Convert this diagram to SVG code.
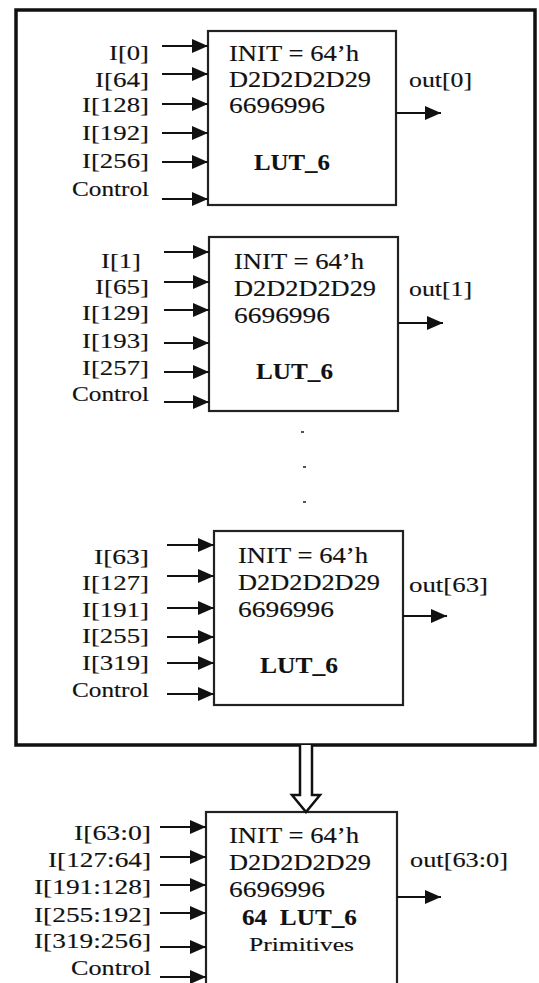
<svg xmlns="http://www.w3.org/2000/svg" width="539" height="983" viewBox="0 0 539 983">
<defs>
<style>
.t{font-family:"Liberation Serif","Times New Roman",serif;fill:#111;stroke:#111;stroke-width:0.15;}
.lbl{font-size:22px;text-anchor:end;}
.in{font-size:24px;}
.b{font-weight:bold;stroke-width:0.1;}
.box{fill:#fff;stroke:#222;stroke-width:2.2;}
.w{stroke:#111;stroke-width:2;fill:none;}
</style>
<marker id="ah" markerWidth="16" markerHeight="14" refX="16" refY="7" orient="auto" markerUnits="userSpaceOnUse">
<path d="M0,0 L16,7 L0,14 Z" fill="#111"/>
</marker>
</defs>
<rect width="539" height="983" fill="#fff"/>

<g id="frame">
<rect x="16" y="10" width="519" height="735" fill="none" stroke="#111" stroke-width="3.5"/>
</g>

<g id="lut0">
<rect class="box" x="208" y="31" width="188" height="174"/>
<text class="t in" x="229" y="61" textLength="130" lengthAdjust="spacingAndGlyphs">INIT = 64’h</text>
<text class="t in" x="229" y="87" textLength="142" lengthAdjust="spacingAndGlyphs">D2D2D2D29</text>
<text class="t in" x="229" y="113" textLength="96" lengthAdjust="spacingAndGlyphs">6696996</text>
<text class="t in b" x="254" y="170" textLength="76" lengthAdjust="spacingAndGlyphs">LUT_6</text>
<text class="t lbl" x="149" y="60" textLength="40" lengthAdjust="spacingAndGlyphs">I[0]</text>
<text class="t lbl" x="149" y="87" textLength="54" lengthAdjust="spacingAndGlyphs">I[64]</text>
<text class="t lbl" x="149" y="112" textLength="67" lengthAdjust="spacingAndGlyphs">I[128]</text>
<text class="t lbl" x="149" y="140" textLength="67" lengthAdjust="spacingAndGlyphs">I[192]</text>
<text class="t lbl" x="149" y="168" textLength="67" lengthAdjust="spacingAndGlyphs">I[256]</text>
<text class="t lbl" x="149" y="196" textLength="77" lengthAdjust="spacingAndGlyphs">Control</text>
<text class="t" x="409" y="87" font-size="22" textLength="63" lengthAdjust="spacingAndGlyphs">out[0]</text>
</g>

<g id="lut1">
<rect class="box" x="209" y="237" width="189" height="174"/>
<text class="t in" x="234" y="269" textLength="130" lengthAdjust="spacingAndGlyphs">INIT = 64’h</text>
<text class="t in" x="234" y="296" textLength="142" lengthAdjust="spacingAndGlyphs">D2D2D2D29</text>
<text class="t in" x="234" y="323" textLength="96" lengthAdjust="spacingAndGlyphs">6696996</text>
<text class="t in b" x="256" y="379" textLength="77" lengthAdjust="spacingAndGlyphs">LUT_6</text>
<text class="t lbl" x="141" y="268" textLength="40" lengthAdjust="spacingAndGlyphs">I[1]</text>
<text class="t lbl" x="149" y="294" textLength="54" lengthAdjust="spacingAndGlyphs">I[65]</text>
<text class="t lbl" x="149" y="320" textLength="67" lengthAdjust="spacingAndGlyphs">I[129]</text>
<text class="t lbl" x="149" y="348" textLength="67" lengthAdjust="spacingAndGlyphs">I[193]</text>
<text class="t lbl" x="149" y="375" textLength="67" lengthAdjust="spacingAndGlyphs">I[257]</text>
<text class="t lbl" x="149" y="401" textLength="77" lengthAdjust="spacingAndGlyphs">Control</text>
<text class="t" x="409" y="296" font-size="22" textLength="63" lengthAdjust="spacingAndGlyphs">out[1]</text>
</g>

<g id="dots" fill="#555">
<rect x="301" y="431" width="3" height="2"/>
<rect x="303" y="466" width="3" height="2"/>
<rect x="303" y="501" width="3" height="2"/>
</g>

<g id="lut63">
<rect class="box" x="214" y="531" width="189" height="174"/>
<text class="t in" x="238" y="563" textLength="130" lengthAdjust="spacingAndGlyphs">INIT = 64’h</text>
<text class="t in" x="238" y="590" textLength="142" lengthAdjust="spacingAndGlyphs">D2D2D2D29</text>
<text class="t in" x="238" y="617" textLength="96" lengthAdjust="spacingAndGlyphs">6696996</text>
<text class="t in b" x="260" y="673" textLength="78" lengthAdjust="spacingAndGlyphs">LUT_6</text>
<text class="t lbl" x="149" y="564" textLength="55" lengthAdjust="spacingAndGlyphs">I[63]</text>
<text class="t lbl" x="149" y="590" textLength="67" lengthAdjust="spacingAndGlyphs">I[127]</text>
<text class="t lbl" x="149" y="617" textLength="67" lengthAdjust="spacingAndGlyphs">I[191]</text>
<text class="t lbl" x="149" y="643" textLength="67" lengthAdjust="spacingAndGlyphs">I[255]</text>
<text class="t lbl" x="149" y="670" textLength="67" lengthAdjust="spacingAndGlyphs">I[319]</text>
<text class="t lbl" x="149" y="697" textLength="77" lengthAdjust="spacingAndGlyphs">Control</text>
<text class="t" x="409" y="592" font-size="22" textLength="79" lengthAdjust="spacingAndGlyphs">out[63]</text>
</g>

<g id="lut_all">
<rect class="box" x="206" y="812" width="191" height="200"/>
<text class="t in" x="229" y="843" textLength="130" lengthAdjust="spacingAndGlyphs">INIT = 64’h</text>
<text class="t in" x="229" y="870" textLength="142" lengthAdjust="spacingAndGlyphs">D2D2D2D29</text>
<text class="t in" x="229" y="897" textLength="96" lengthAdjust="spacingAndGlyphs">6696996</text>
<text class="t in b" x="242" y="925" textLength="115" lengthAdjust="spacingAndGlyphs" xml:space="preserve">64  LUT_6</text>
<text class="t" x="249" y="951" font-size="19" textLength="105" lengthAdjust="spacingAndGlyphs">Primitives</text>
<text class="t lbl" x="151" y="840" textLength="77" lengthAdjust="spacingAndGlyphs">I[63:0]</text>
<text class="t lbl" x="151" y="867" textLength="103" lengthAdjust="spacingAndGlyphs">I[127:64]</text>
<text class="t lbl" x="151" y="894" textLength="117" lengthAdjust="spacingAndGlyphs">I[191:128]</text>
<text class="t lbl" x="151" y="922" textLength="117" lengthAdjust="spacingAndGlyphs">I[255:192]</text>
<text class="t lbl" x="151" y="948" textLength="117" lengthAdjust="spacingAndGlyphs">I[319:256]</text>
<text class="t lbl" x="151" y="975" textLength="80" lengthAdjust="spacingAndGlyphs">Control</text>
<text class="t" x="410" y="867" font-size="22" textLength="98" lengthAdjust="spacingAndGlyphs">out[63:0]</text>
</g>

<g id="connectors" class="w">
<g marker-end="url(#ah)">
<line x1="162" y1="46" x2="208" y2="46"/>
<line x1="162" y1="74" x2="208" y2="74"/>
<line x1="162" y1="104" x2="208" y2="104"/>
<line x1="162" y1="133" x2="208" y2="133"/>
<line x1="162" y1="162" x2="208" y2="162"/>
<line x1="162" y1="199" x2="208" y2="199"/>
<line x1="396" y1="113" x2="441" y2="113"/>

<line x1="164" y1="252" x2="209" y2="252"/>
<line x1="164" y1="282" x2="209" y2="282"/>
<line x1="164" y1="310" x2="209" y2="310"/>
<line x1="164" y1="343" x2="209" y2="343"/>
<line x1="164" y1="372" x2="209" y2="372"/>
<line x1="164" y1="402" x2="209" y2="402"/>
<line x1="398" y1="323" x2="443" y2="323"/>

<line x1="167" y1="545" x2="214" y2="545"/>
<line x1="167" y1="576" x2="214" y2="576"/>
<line x1="167" y1="608" x2="214" y2="608"/>
<line x1="167" y1="637" x2="214" y2="637"/>
<line x1="167" y1="663" x2="214" y2="663"/>
<line x1="167" y1="694" x2="214" y2="694"/>
<line x1="403" y1="616" x2="447" y2="616"/>

<line x1="160" y1="827" x2="206" y2="827"/>
<line x1="160" y1="857" x2="206" y2="857"/>
<line x1="160" y1="885" x2="206" y2="885"/>
<line x1="160" y1="913" x2="206" y2="913"/>
<line x1="160" y1="947" x2="206" y2="947"/>
<line x1="160" y1="977" x2="206" y2="977"/>
<line x1="397" y1="897" x2="441" y2="897"/>
</g>
<path d="M300,745 V795 H292 L306,812 L320,795 H312 V745" fill="#fff" stroke="#111" stroke-width="2.5"/>
</g>
</svg>
